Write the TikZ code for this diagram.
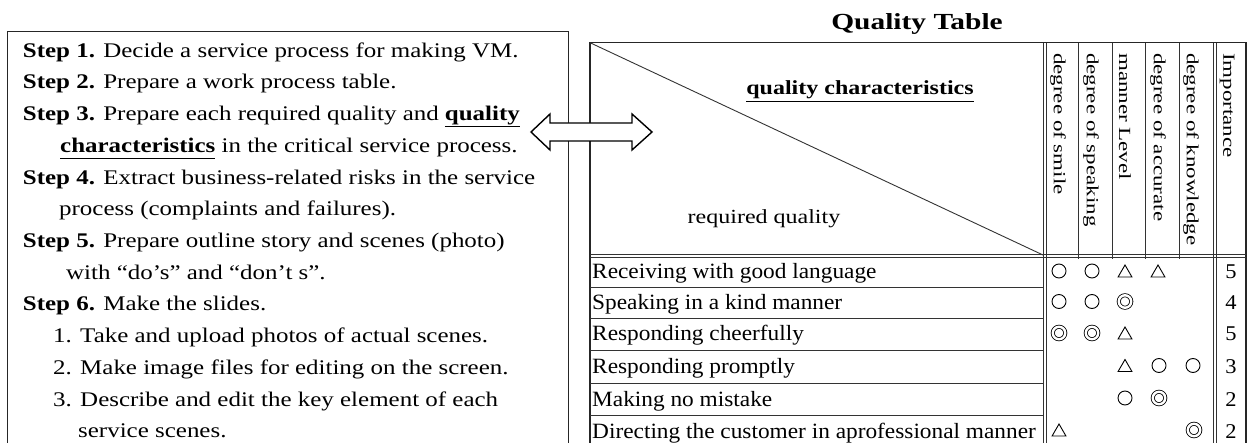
\documentclass[tikz,border=0pt]{standalone}
\usepackage{fontspec}
\usetikzlibrary{shapes.geometric}
\setmainfont{Liberation Serif}
\newfontfamily\stepfont[FakeStretch=1.2]{Liberation Serif}
\newfontfamily\rowfont[FakeStretch=1.07]{Liberation Serif}
\newfontfamily\titlefont[FakeStretch=1.28]{Liberation Serif}
\newfontfamily\vertfont[FakeStretch=1.35]{Liberation Serif}
\newcommand\ulword[1]{\underline{#1\vphantom{y}}}

\begin{document}
\begin{tikzpicture}[x=1pt,y=-1pt,
  frame/.style={draw=black!85,line width=1.2pt},
  rule/.style={draw=black!80,line width=0.9pt},
  steptext/.style={anchor=base west,inner sep=0pt,font=\stepfont\fontsize{20.8}{24}\selectfont},
  rowtext/.style={anchor=base west,inner sep=0pt,font=\rowfont\fontsize{21.8}{24}\selectfont},
  coltext/.style={anchor=west,rotate=-90,inner sep=0pt,font=\vertfont\fontsize{17}{20}\selectfont},
  impnum/.style={anchor=base,inner sep=0pt,font=\rowfont\fontsize{21}{24}\selectfont},
  oring/.style={circle,draw,line width=0.9pt,minimum size=14pt,inner sep=0pt},
  dring/.style={circle,draw,line width=0.8pt,double,double distance=2.4pt,minimum size=12.5pt,inner sep=0pt},
  tmark/.style={regular polygon,regular polygon sides=3,draw,line width=0.9pt,minimum size=16pt,inner sep=0pt},
  arrowbox/.style={draw=black,line width=1.4pt,fill=white,line join=miter}]
\useasboundingbox (0,0) rectangle (1247,443);

% ---------- procedure box ----------
\draw[frame] (7.7,460) -- (7.7,31.7) -- (568.7,31.7) -- (568.7,460);
\node[steptext] (s1)  at (22.7,57.3)  {\textbf{Step 1.} Decide a service process for making VM.};
\node[steptext] (s2)  at (22.7,89.0)  {\textbf{Step 2.} Prepare a work process table.};
\node[steptext] (s3)  at (22.7,120.7) {\textbf{Step 3.} Prepare each required quality and \ulword{\textbf{quality}}};
\node[steptext] (s3b) at (60,152.4)   {\ulword{\textbf{characteristics}} in the critical service process.};
\node[steptext] (s4)  at (22.7,184.1) {\textbf{Step 4.} Extract business-related risks in the service};
\node[steptext] (s4b) at (59,215.8)   {process (complaints and failures).};
\node[steptext] (s5)  at (22.7,247.5) {\textbf{Step 5.} Prepare outline story and scenes (photo)};
\node[steptext] (s5b) at (66,279.2)   {with “do’s” and “don’t s”.};
\node[steptext] (s6)  at (22.7,310.9) {\textbf{Step 6.} Make the slides.};
\node[steptext] (s61) at (53,342.6)   {1. Take and upload photos of actual scenes.};
\node[steptext] (s62) at (53,374.3)   {2. Make image files for editing on the screen.};
\node[steptext] (s63) at (53,406.0)   {3. Describe and edit the key element of each};
\node[steptext] (s63b) at (78,437.7)  {service scenes.};

% ---------- quality table ----------
\node[anchor=base,inner sep=0pt,font=\titlefont\fontsize{23}{26}\selectfont\bfseries] (title) at (917,30) {Quality Table};
\draw[frame] (590,460) -- (590,42.7) -- (1246,42.7) -- (1246,460);
% corner diagonal
\draw[rule] (590,42.7) -- (1043,255);
\node[anchor=base,inner sep=0pt,font=\stepfont\fontsize{20}{24}\selectfont] (qc) at (860,95) {\ulword{\textbf{quality characteristics}}};
\node[anchor=base,inner sep=0pt,font=\stepfont\fontsize{20}{24}\selectfont] (rq) at (764,224) {required quality};
% header / body separation (double rule)
\draw[rule] (590,254) -- (1246,254);
\draw[rule] (590,257.5) -- (1246,257.5);
% double rules beside the row labels and before the importance column
\foreach \x in {1043,1046.5,1213,1216.5} \draw[rule] (\x,42.7) -- (\x,460);
% column rules of the header
\foreach \x in {1078,1112,1145,1179} \draw[rule] (\x,42.7) -- (\x,259);
% row rules
\foreach \y in {287,318,350,383,415} \draw[rule] (590,\y) -- (1043,\y);

% column headings
\node[coltext] (h1) at (1058,53) {degree of smile};
\node[coltext] (h2) at (1091,53) {degree of speaking};
\node[coltext] (h3) at (1125,53) {manner Level};
\node[coltext] (h4) at (1158,53) {degree of accurate};
\node[coltext] (h5) at (1191,53) {degree of knowledge};
\node[coltext] (h6) at (1227,53) {Importance};

% row labels
\node[rowtext] (r1) at (592,279)   {Receiving with good language};
\node[rowtext] (r2) at (592,309.5) {Speaking in a kind manner};
\node[rowtext] (r3) at (592,341)   {Responding cheerfully};
\node[rowtext] (r4) at (592,373.5) {Responding promptly};
\node[rowtext] (r5) at (592,406)   {Making no mistake};
\node[rowtext] (r6) at (592,438)   {Directing the customer in aprofessional manner};

% importance values
\node[impnum] (i1) at (1231,279)   {5};
\node[impnum] (i2) at (1231,309.5) {4};
\node[impnum] (i3) at (1231,341)   {5};
\node[impnum] (i4) at (1231,373.5) {3};
\node[impnum] (i5) at (1231,406)   {2};
\node[impnum] (i6) at (1231,438)   {2};

% evaluation marks
\node[oring] (m11) at (1059,271) {};
\node[oring] (m12) at (1092,271) {};
\node[tmark] (m13) at (1125,273) {};
\node[tmark] (m14) at (1158,273) {};
\node[oring] (m21) at (1059,301.5) {};
\node[oring] (m22) at (1092,301.5) {};
\node[dring] (m23) at (1125,301.5) {};
\node[dring] (m31) at (1059,333) {};
\node[dring] (m32) at (1092,333) {};
\node[tmark] (m33) at (1125,335) {};
\node[tmark] (m43) at (1125,367.5) {};
\node[oring] (m44) at (1159,365.5) {};
\node[oring] (m45) at (1193,365.5) {};
\node[oring] (m53) at (1125,398) {};
\node[dring] (m54) at (1159,398) {};
\node[tmark] (m61) at (1059,432) {};
\node[dring] (m65) at (1194,430) {};

% two-headed block arrow linking the list and the table
\draw[arrowbox] (531,132) -- (550,114) -- (550,123) -- (632,123) -- (632,114)
  -- (652,132) -- (632,150) -- (632,141) -- (550,141) -- (550,150) -- cycle;
\end{tikzpicture}
\end{document}
